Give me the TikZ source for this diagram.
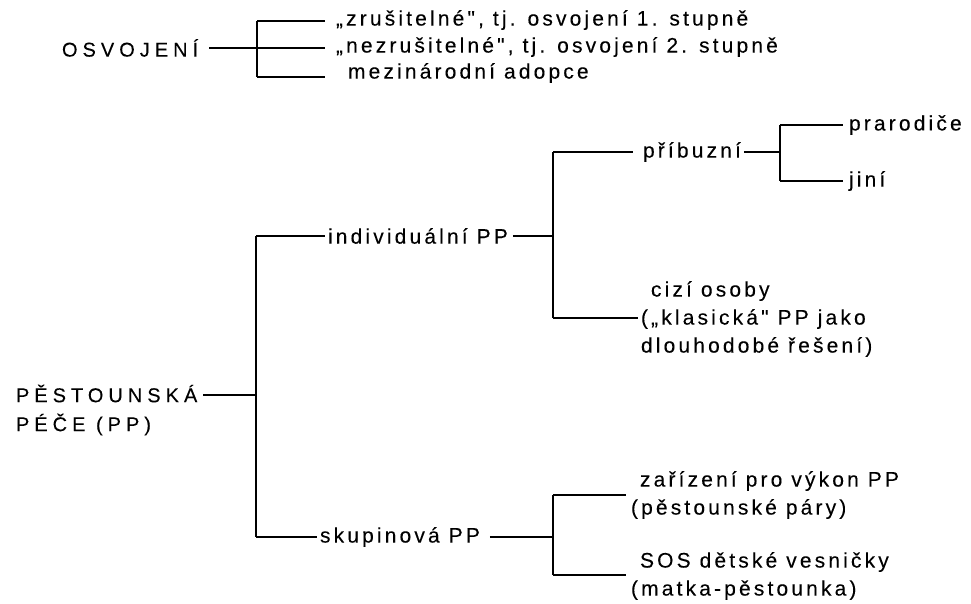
\documentclass[tikz,border=0pt]{standalone}
\usepackage{fontspec}
\newfontfamily\lbfont[LetterSpace=15,FakeBold=0.1]{Liberation Sans}
\newfontfamily\capfont[LetterSpace=25,FakeBold=0.1]{Liberation Sans}
\usetikzlibrary{calc}
\begin{document}
\begin{tikzpicture}[x=1pt,y=-1pt,
  lbl/.style={font=\lbfont\fontsize{21}{28}\selectfont, inner sep=0pt, outer xsep=3pt, anchor=west, align=left, text=black},
  caplbl/.style={lbl, font=\capfont\fontsize{20}{29}\selectfont},
  conn/.style={draw=black, line width=1.3pt}]
\useasboundingbox[fill=white] (0,0) rectangle (971,603);
% ---- OSVOJENI ----
\node[caplbl] (osv) at (59,48) {OSVOJENÍ};
\coordinate (jo) at (257,48);
\coordinate (jot) at (257,21);
\coordinate (job) at (257,77);
\node[lbl] (o1) at (333,20) {„zrušitelné", tj. osvojení 1. stupně};
\node[lbl] (o2) at (333,47) {„nezrušitelné", tj. osvojení 2. stupně};
\node[lbl] (o3) at (345,73) {mezinárodní adopce};
\draw[conn] ([xshift=8pt]osv.east) -- (jo);
\draw[conn] (jot) -- (job);
\draw[conn] (jot) -- ([xshift=-8pt]o1.west |- jot);
\draw[conn] (jo) -- ([xshift=-8pt]o1.west |- jo);
\draw[conn] (job) -- ([xshift=-8pt]o1.west |- job);
% ---- PESTOUNSKA PECE ----
\node[caplbl] (pp) at (13,410) {PĚSTOUNSKÁ\\PÉČE (PP)};
\coordinate (jp) at (256,395);
\coordinate (jpt) at (256,236);
\coordinate (jpb) at (256,537);
\draw[conn] ([xshift=3pt]pp.east |- jp) -- (jp);
\draw[conn] (jpt) -- (jpb);
\node[lbl] (ind) at (325,236) {individuální PP};
\node[lbl] (sk) at (317,537) {skupinová PP};
\draw[conn] (jpt) -- (ind.west);
\draw[conn] (jpb) -- (sk.west);
% individualni
\coordinate (ji) at (553,236);
\coordinate (jit) at (553,152);
\coordinate (jib) at (553,318);
\draw[conn] ([xshift=2pt]ind.east) -- (ji);
\draw[conn] (jit) -- (jib);
\node[lbl] (pri) at (640,152) {příbuzní};
\node[lbl] (ciz) at (638,319) {\hspace{10pt}cizí osoby\\(„klasická" PP jako\\dlouhodobé řešení)};
\draw[conn] (jit) -- ([xshift=-7pt]pri.west);
\draw[conn] (jib) -- (ciz.west |- jib);
% pribuzni
\coordinate (jr) at (780,152);
\coordinate (jrt) at (780,125);
\coordinate (jrb) at (780,181);
\draw[conn] (pri.east) -- (jr);
\draw[conn] (jrt) -- (jrb);
\node[lbl] (pra) at (846,125) {prarodiče};
\node[lbl] (jin) at (846,181) {jiní};
\draw[conn] (jrt) -- ([xshift=-3pt]pra.west);
\draw[conn] (jrb) -- ([xshift=-3pt]jin.west);
% skupinova
\coordinate (js) at (553,537);
\coordinate (jst) at (553,495);
\coordinate (jsb) at (553,575);
\draw[conn] ([xshift=7pt]sk.east) -- (js);
\draw[conn] (jst) -- (jsb);
\node[lbl] (zar) at (628,495) {\hspace{9pt}zařízení pro výkon PP\\(pěstounské páry)};
\node[lbl] (sos) at (628,576) {\hspace{9pt}SOS dětské vesničky\\(matka-pěstounka)};
\draw[conn] (jst) -- ([xshift=-2pt]zar.west |- jst);
\draw[conn] (jsb) -- ([xshift=-2pt]sos.west |- jsb);
\end{tikzpicture}
\end{document}
